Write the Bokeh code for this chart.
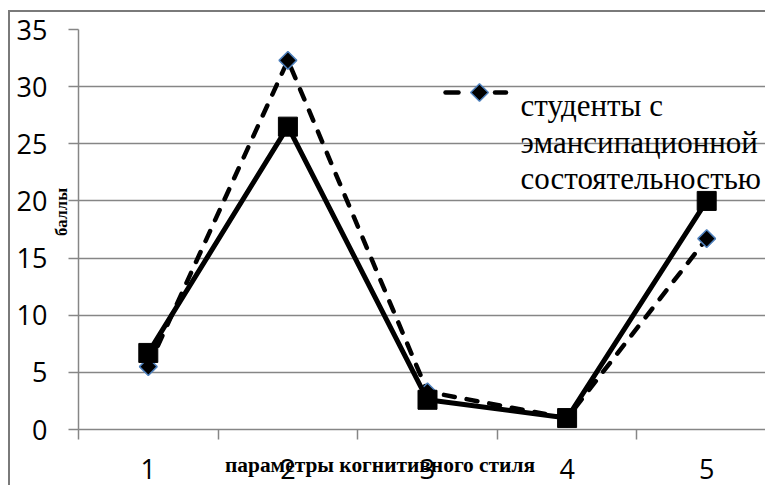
import math
from bokeh.plotting import figure
from bokeh.models import Range1d, FixedTicker, LinearAxis, Label
from bokeh.embed import file_html
from bokeh.resources import INLINE

# ---- data ----
categories = ["1", "2", "3", "4", "5"]
x_pos = [1, 2, 3, 4, 5]
solid_vals = [6.7, 26.5, 2.6, 1.0, 20.0]      # squares, solid line
dashed_vals = [5.5, 32.3, 3.3, 1.0, 16.7]     # diamonds, dashed line
y_ticks = [0, 5, 10, 15, 20, 25, 30, 35]
category_bounds = [0.5, 1.5, 2.5, 3.5, 4.5, 5.5]
legend_lines = ["студенты с", "эмансипационной", "состоятельностью"]
x_title = "параметры когнитивного стиля"
y_title = "баллы"

GRID = "#868686"
CAT_PX = 139.6          # pixel width of one category in the reference
W, H = 757, 475
ML, MT = 68, 17
FRAME_W = W - ML
FRAME_H = 400

p = figure(width=W, height=H, title=None,
           x_range=Range1d(0.5, 0.5 + FRAME_W / CAT_PX), y_range=Range1d(0, 35),
           output_backend="svg", toolbar_location=None,
           min_border_left=ML, min_border_right=0, min_border_top=MT,
           min_border_bottom=H - MT - FRAME_H,
           styles={"margin-left": "8px", "margin-top": "10px",
                   "border-left": "2px solid #7a7a7a", "border-top": "2px solid #7a7a7a"})
p.outline_line_color = None
p.background_fill_color = "white"
p.border_fill_color = "white"

# y axis
p.yaxis.ticker = FixedTicker(ticks=y_ticks, minor_ticks=[])
p.yaxis.axis_line_color = GRID
p.yaxis.axis_line_width = 1.5
p.yaxis.major_tick_line_color = GRID
p.yaxis.major_tick_line_width = 1.5
p.yaxis.major_tick_out = 10
p.yaxis.major_tick_in = 0
p.yaxis.minor_tick_line_color = None
p.yaxis.major_label_text_font = "Open Sans"
p.yaxis.major_label_text_font_size = "27px"
p.yaxis.major_label_text_color = "black"
p.yaxis.major_label_standoff = 21

# x axis: category labels at centres, ticks between categories
p.xaxis.ticker = FixedTicker(ticks=x_pos, minor_ticks=category_bounds)
p.xaxis.major_label_overrides = {x: c for x, c in zip(x_pos, categories)}
p.xaxis.axis_line_color = GRID
p.xaxis.axis_line_width = 1.5
p.xaxis.major_tick_line_color = None
p.xaxis.major_tick_out = 10
p.xaxis.major_tick_in = 0
p.xaxis.minor_tick_line_color = GRID
p.xaxis.minor_tick_line_width = 1.5
p.xaxis.minor_tick_out = 10
p.xaxis.minor_tick_in = 0
p.xaxis.major_label_text_font = "Open Sans"
p.xaxis.major_label_text_font_size = "27px"
p.xaxis.major_label_text_color = "black"
p.xaxis.major_label_standoff = 19

# x axis title, drawn by a second (label-only) axis pulled up over the first
TITLE_X = 0.5 + (379.5 - 78) / CAT_PX
xt = LinearAxis(ticker=FixedTicker(ticks=[TITLE_X], minor_ticks=[]),
                major_label_overrides={TITLE_X: x_title},
                axis_line_color=None, major_tick_line_color=None, minor_tick_line_color=None,
                major_tick_out=0, major_tick_in=0, minor_tick_out=0, minor_tick_in=0,
                major_label_text_font="Liberation Serif", major_label_text_font_style="bold",
                major_label_text_font_size="21.4px", major_label_text_color="black",
                major_label_standoff=-29)
p.add_layout(xt, "below")

# y axis title, drawn by a second (label-only) axis pulled in over the first
TITLE_Y = (429 - 211.5) / (400 / 35)
yt = LinearAxis(ticker=FixedTicker(ticks=[TITLE_Y], minor_ticks=[]),
                major_label_overrides={TITLE_Y: y_title},
                axis_line_color=None, major_tick_line_color=None, minor_tick_line_color=None,
                major_tick_out=0, major_tick_in=0, minor_tick_out=0, minor_tick_in=0,
                major_label_orientation="vertical",
                major_label_text_font="Liberation Serif", major_label_text_font_style="bold",
                major_label_text_font_size="16.5px", major_label_text_color="black",
                major_label_standoff=-57)
p.add_layout(yt, "left")

p.xgrid.grid_line_color = None
p.ygrid.ticker = FixedTicker(ticks=y_ticks, minor_ticks=[])
p.ygrid.grid_line_color = GRID
p.ygrid.grid_line_width = 1.5

# dashed series (diamonds)
p.line(x_pos, dashed_vals, line_color="black", line_width=4.5,
       line_dash="11 12", line_cap="round")
p.scatter(x_pos, dashed_vals, marker="square", angle=math.pi / 4, size=12.5,
          fill_color="black", line_color="#4f81bd", line_width=1.5)

# solid series (squares)
p.line(x_pos, solid_vals, line_color="black", line_width=5)
p.scatter(x_pos, solid_vals, marker="square", size=19,
          fill_color="black", line_color="black")

# legend (manual, as in the reference)
def sx(px):
    return 0.5 + (px - 78) / CAT_PX

def sy(py):
    return (429 - py) / (400 / 35)

p.segment(x0=[sx(445), sx(494.5)], y0=[sy(92), sy(92)],
          x1=[sx(458), sx(505.5)], y1=[sy(92), sy(92)],
          line_color="black", line_width=4.5, line_cap="round")
p.scatter([sx(479)], [sy(92)], marker="square", angle=math.pi / 4, size=12.5,
          fill_color="black", line_color="#4f81bd", line_width=1.5)
for txt, base in zip(legend_lines, [105, 141.5, 178]):
    p.add_layout(Label(x=sx(520), y=sy(base), text=txt, text_font="Liberation Serif",
                       text_font_size="31px", text_color="black",
                       text_align="left", text_baseline="alphabetic"))

open("out.html", "w").write(file_html(p, INLINE))
